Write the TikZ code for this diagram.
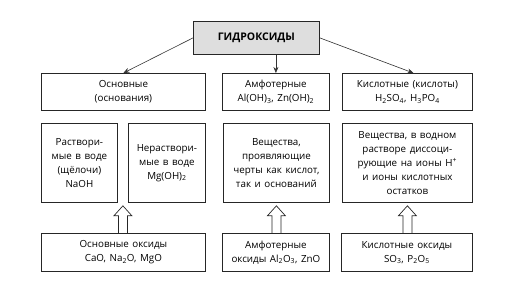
\documentclass[tikz,border=0pt]{standalone}
\usepackage{fontspec}
\setmainfont[WordSpace={1.4}]{Open Sans}
\usetikzlibrary{arrows.meta,calc}
\tikzset{
  box/.style={draw=black!85, line width=0.8pt, anchor=north west, align=center,
    inner sep=2pt, font=\fontsize{9.8}{14}\selectfont, text=black},
  title/.style={box, fill=black!13, font=\fontsize{10.5}{13}\selectfont\bfseries},
  conn/.style={draw=black!80, line width=0.6pt, -{Stealth[length=6pt,width=5pt]}},
  harrowstyle/.style={draw=black!85, line width=0.7pt, line join=miter},
}
\newcommand\harrow[2]{\path[harrowstyle] let \p1=(#1), \p2=(#2) in
  (\x1-4.5pt,\y1) -- (\x1-4.5pt,\y2-10pt) -- (\x1-9pt,\y2-10pt) -- (\x2,\y2)
  -- (\x1+9pt,\y2-10pt) -- (\x1+4.5pt,\y2-10pt) -- (\x1+4.5pt,\y1);}
\begin{document}
\begin{tikzpicture}[x=1pt,y=-1pt]
\useasboundingbox (0,0) rectangle (516,289);
\node[title, minimum width=126pt, minimum height=33pt] (t) at (193,21) {ГИДРОКСИДЫ};
\node[box, minimum width=164pt, minimum height=37pt] (o1) at (41,73) {Основные\\(основания)};
\node[box, minimum width=107pt, minimum height=37pt] (o2) at (222,73) {Амфотерные\\Al(OH)\textsubscript{3}, Zn(OH)\textsubscript{2}};
\node[box, minimum width=130pt, minimum height=37pt] (o3) at (342,73) {Кислотные (кислоты)\\H\textsubscript{2}SO\textsubscript{4}, H\textsubscript{3}PO\textsubscript{4}};
\node[box, minimum width=76pt, minimum height=79pt] (ra) at (41,123) {Раствори-\\мые в воде\\(щёлочи)\\NaOH};
\node[box, minimum width=77pt, minimum height=79pt] (rb) at (128,123) {Нераствори-\\мые в воде\\Mg(OH)\textsubscript{2}};
\node[box, minimum width=106pt, minimum height=79pt] (rc) at (223,123) {Вещества,\\проявляющие\\черты как кислот,\\так и оснований};
\node[box, minimum width=130pt, minimum height=79pt] (rd) at (342,123) {Вещества, в водном\\растворе диссоци-\\рующие на ионы H\textsuperscript{+}\\и ионы кислотных\\остатков};
\node[box, minimum width=164pt, minimum height=38pt] (x1) at (41,233) {Основные оксиды\\CaO, Na\textsubscript{2}O, MgO};
\node[box, minimum width=107pt, minimum height=38pt] (x2) at (222,233) {Амфотерные\\оксиды Al\textsubscript{2}O\textsubscript{3}, ZnO};
\node[box, minimum width=131pt, minimum height=38pt] (x3) at (341,233) {Кислотные оксиды\\SO\textsubscript{3}, P\textsubscript{2}O\textsubscript{5}};
\draw[conn] (t.west) -- (o1.north);
\draw[conn] (t.south -| o2.north) -- (o2.north);
\draw[conn] (t.east) -- ($(o3.north)+(6,0)$);
\coordinate (h1) at ($(ra.south east)!0.5!(rb.south west)+(0,3)$);
\coordinate (h2) at ($(rc.south)+(0,3)$);
\coordinate (h3) at ($(rd.south)+(0,3)$);
\harrow{h1 |- x1.north}{h1}
\harrow{h2 |- x2.north}{h2}
\harrow{h3 |- x3.north}{h3}
\end{tikzpicture}
\end{document}
